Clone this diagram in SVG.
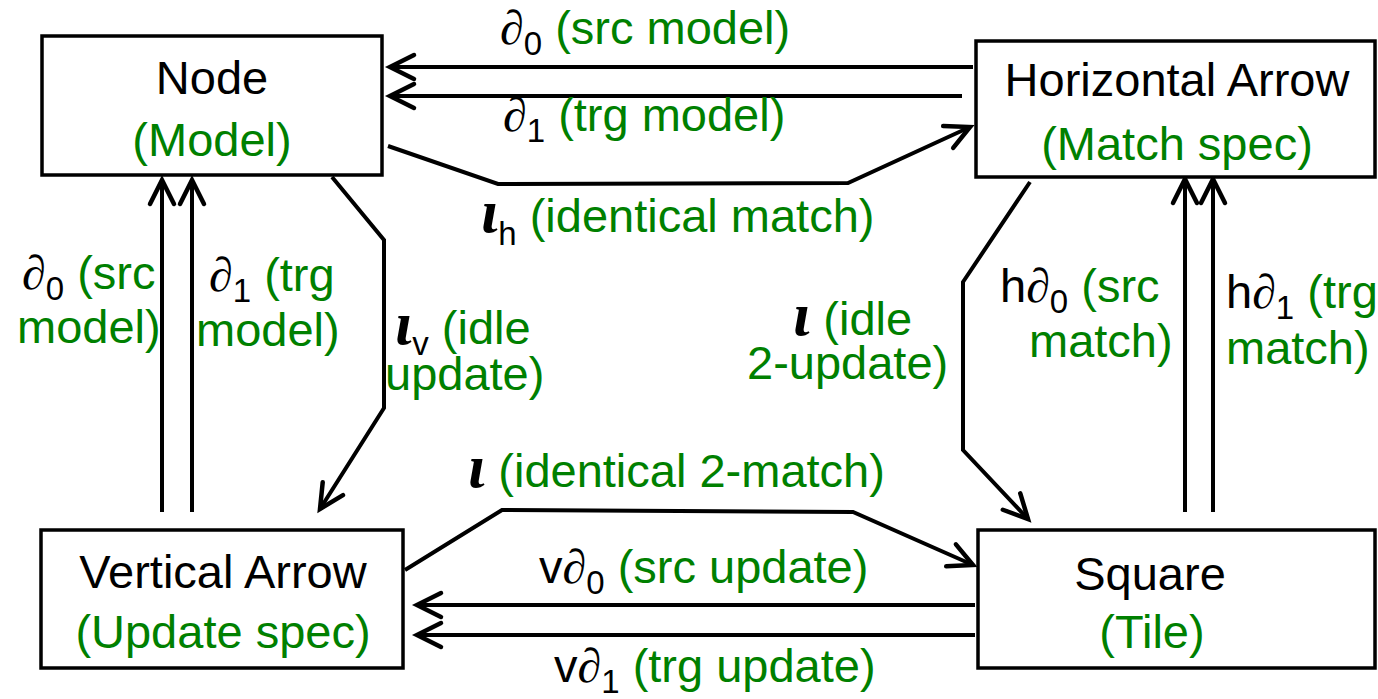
<svg xmlns="http://www.w3.org/2000/svg" width="1378" height="699" viewBox="0 0 1378 699">
<style>
.box{fill:#fff;stroke:#000;stroke-width:3.5}
.t{font-family:"Liberation Sans",Arial,sans-serif;font-size:47px;fill:#000}
.g{fill:#008000}
.m{font-family:"Liberation Serif","DejaVu Serif",serif;font-style:italic;font-size:48px}
.io{font-family:"Liberation Serif","DejaVu Serif",serif;font-style:italic;font-weight:bold;font-size:62px}
.s{font-size:33px}
.c{fill:none;stroke:#000;stroke-width:4;stroke-linejoin:miter}
</style>
<defs>
<marker id="ah" markerUnits="userSpaceOnUse" orient="auto" markerWidth="40" markerHeight="40" refX="0" refY="0" viewBox="-30 -20 40 40" overflow="visible">
<path d="M-24,-12 L0,0 L-24,12" fill="none" stroke="#000" stroke-width="4.5" stroke-linecap="round"/>
</marker>
</defs>
<rect width="1378" height="699" fill="#fff"/>
<g id="connectors">
<path class="c" d="M973,67 L390,67" marker-end="url(#ah)"/>
<path class="c" d="M962,96 L390,96" marker-end="url(#ah)"/>
<path class="c" d="M388,146 L498,184 L848,183 L970,127" marker-end="url(#ah)"/>
<path class="c" d="M332,177 L384,240 L384,408 L320,509" marker-end="url(#ah)"/>
<path class="c" d="M1030,182 L963,282 L963,450 L1028,519" marker-end="url(#ah)"/>
<path class="c" d="M162,512 L162,180" marker-end="url(#ah)"/>
<path class="c" d="M192,512 L192,180" marker-end="url(#ah)"/>
<path class="c" d="M1185,512 L1185,179" marker-end="url(#ah)"/>
<path class="c" d="M1213,512 L1213,179" marker-end="url(#ah)"/>
<path class="c" d="M405,570 L502,510 L853,512 L973,565" marker-end="url(#ah)"/>
<path class="c" d="M975,605 L417,605" marker-end="url(#ah)"/>
<path class="c" d="M975,635 L417,635" marker-end="url(#ah)"/>
</g>
<g id="labels" class="t">
<text x="500" y="44"><tspan class="m">∂</tspan><tspan class="s" dy="11">0</tspan><tspan class="g" dy="-11"> (src model)</tspan></text>
<text x="503" y="131"><tspan class="m">∂</tspan><tspan class="s" dy="11">1</tspan><tspan class="g" dy="-11"> (trg model)</tspan></text>
<text x="481" y="232"><tspan class="io">ι</tspan><tspan class="s" dy="13">h</tspan><tspan class="g" dy="-13"> (identical match)</tspan></text>
<text x="22" y="289"><tspan class="m">∂</tspan><tspan class="s" dy="11">0</tspan><tspan class="g" dy="-11"> (src</tspan></text>
<text x="17" y="343" class="g">model)</text>
<text x="209" y="291"><tspan class="m">∂</tspan><tspan class="s" dy="11">1</tspan><tspan class="g" dy="-11"> (trg</tspan></text>
<text x="196" y="346" class="g">model)</text>
<text x="395" y="344"><tspan class="io">ι</tspan><tspan class="s" dy="11">v</tspan><tspan class="g" dy="-11"> (idle</tspan></text>
<text x="385" y="390" class="g">update)</text>
<text x="793" y="335"><tspan class="io">ι</tspan><tspan class="g"> (idle</tspan></text>
<text x="747" y="379" class="g">2-update)</text>
<text x="1000" y="302"><tspan>h</tspan><tspan class="m">∂</tspan><tspan class="s" dy="11">0</tspan><tspan class="g" dy="-11"> (src</tspan></text>
<text x="1029" y="357" class="g">match)</text>
<text x="1226" y="308"><tspan>h</tspan><tspan class="m">∂</tspan><tspan class="s" dy="11">1</tspan><tspan class="g" dy="-11"> (trg</tspan></text>
<text x="1226" y="364" class="g">match)</text>
<text x="468" y="487"><tspan class="io">ι</tspan><tspan class="g"> (identical 2-match)</tspan></text>
<text x="539" y="583"><tspan>v</tspan><tspan class="m">∂</tspan><tspan class="s" dy="11">0</tspan><tspan class="g" dy="-11"> (src update)</tspan></text>
<text x="554" y="682"><tspan>v</tspan><tspan class="m">∂</tspan><tspan class="s" dy="11">1</tspan><tspan class="g" dy="-11"> (trg update)</tspan></text>
</g>
<g id="node-node">
<rect class="box" x="42" y="36" width="340" height="139"/>
<text class="t" x="212" y="94" text-anchor="middle">Node</text>
<text class="t g" x="212" y="156" text-anchor="middle">(Model)</text>
</g>
<g id="node-horizontal">
<rect class="box" x="976" y="41" width="399" height="136"/>
<text class="t" x="1177" y="96" text-anchor="middle">Horizontal Arrow</text>
<text class="t g" x="1177" y="160" text-anchor="middle">(Match spec)</text>
</g>
<g id="node-vertical">
<rect class="box" x="41" y="530" width="362" height="138"/>
<text class="t" x="223" y="588" text-anchor="middle">Vertical Arrow</text>
<text class="t g" x="223" y="648" text-anchor="middle">(Update spec)</text>
</g>
<g id="node-square">
<rect class="box" x="978" y="530" width="397" height="138"/>
<text class="t" x="1150" y="590" text-anchor="middle">Square</text>
<text class="t g" x="1152" y="648" text-anchor="middle">(Tile)</text>
</g>
</svg>
